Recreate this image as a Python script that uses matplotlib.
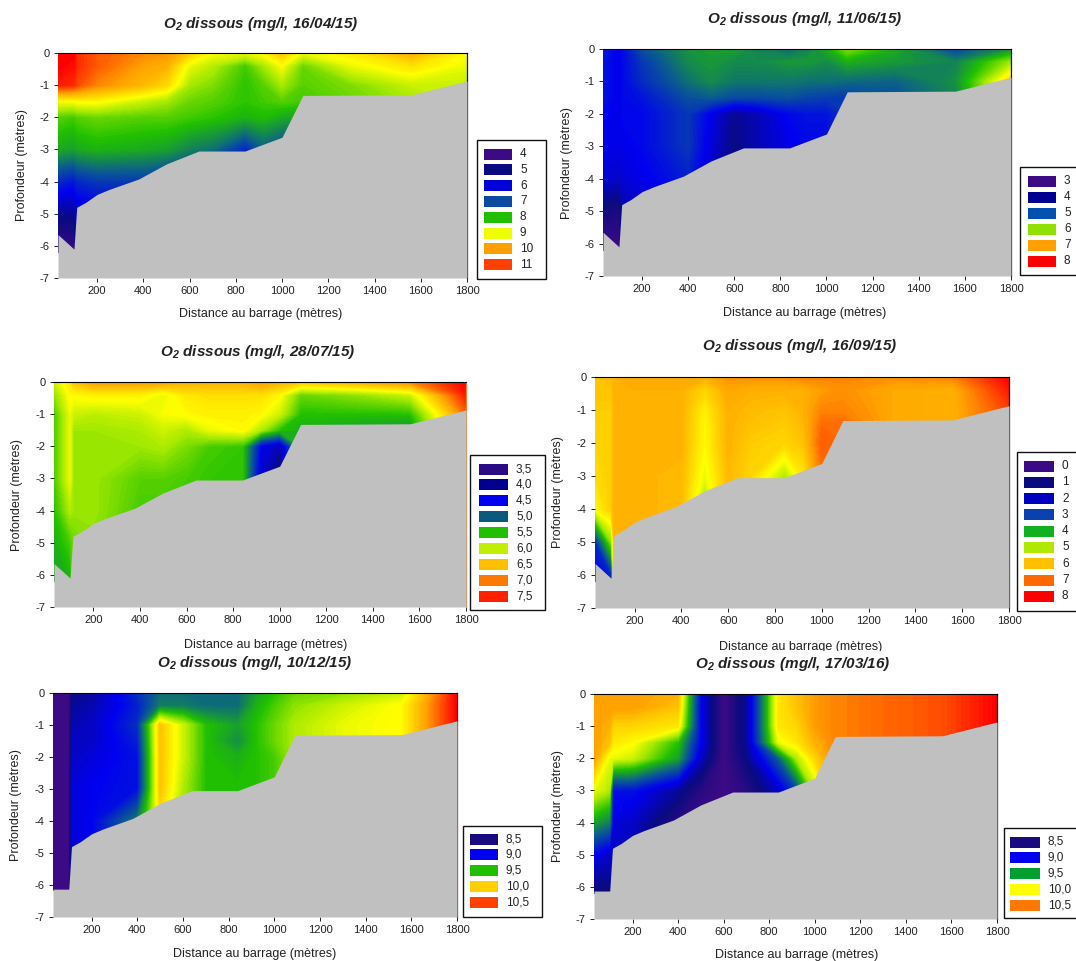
import numpy as np
import matplotlib
matplotlib.use('Agg')
from matplotlib import pyplot as plt
from matplotlib.colors import LinearSegmentedColormap
from matplotlib.patches import Rectangle

plt.rcParams['font.family'] = ['Liberation Sans', 'DejaVu Sans']
plt.rcParams['mathtext.fontset'] = 'custom'
plt.rcParams['mathtext.bfit'] = 'Liberation Sans:italic:bold'
plt.rcParams['axes.unicode_minus'] = False

#-------sampling grid-------------------
distance = [31, 100, 115, 200, 400, 500, 600, 700, 840, 920, 1000, 1090, 1300, 1560, 1800]
depth = [0, -0.4, -1, -1.5, -2, -3, -4, -5, -6.2]

#-------bottom of the reservoir---------
bottom_x = [31, 100, 112, 150, 200, 250, 380, 500, 640, 840, 1000, 1090, 1560, 1800]
bottom_y = [-5.65, -6.1, -4.8, -4.65, -4.4, -4.25, -3.92, -3.45, -3.05, -3.05, -2.62, -1.32, -1.3, -0.87]
bottom_y_flat = [-6.13, -6.13, -4.8, -4.65, -4.4, -4.25, -3.92, -3.45, -3.05, -3.05, -2.62, -1.32, -1.3, -0.87]

#-------one list per station, surface first-------
o2_160415 = [
    [11.0, 11.0, 10.8, 9.0, 8.1, 7.6, 6.2, 5.0, 4.0],
    [11.0, 10.9, 10.7, 9.0, 8.0, 7.5, 6.0, 5.0, 4.0],
    [10.7, 10.7, 10.5, 9.1, 8.1, 7.6, 6.2, 5.4, 5.0],
    [10.4, 10.4, 10.1, 9.1, 8.2, 7.7, 6.4, 5.5, 5.0],
    [10.1, 9.9, 9.7, 8.7, 8.1, 7.6, 6.4, 5.5, 5.0],
    [10.0, 9.8, 9.4, 8.5, 8.1, 7.5, 6.2, 5.5, 5.0],
    [9.5, 8.9, 8.5, 8.2, 8.0, 7.2, 6.0, 5.5, 5.0],
    [9.0, 8.6, 8.3, 8.1, 7.9, 7.0, 6.0, 5.5, 5.0],
    [8.9, 8.0, 7.9, 7.9, 7.7, 6.2, 5.5, 5.5, 5.0],
    [9.1, 8.5, 8.1, 8.0, 7.8, 6.8, 6.0, 5.5, 5.0],
    [9.6, 9.0, 8.5, 8.1, 7.6, 6.5, 6.0, 5.5, 5.0],
    [8.9, 8.2, 8.1, 8.0, 7.5, 6.5, 6.0, 5.5, 5.0],
    [9.2, 8.9, 8.3, 8.2, 8.0, 8.0, 8.0, 8.0, 8.0],
    [9.8, 9.3, 8.7, 8.5, 8.5, 8.5, 8.5, 8.5, 8.5],
    [9.0, 8.9, 8.7, 8.7, 8.7, 8.7, 8.7, 8.7, 8.7],
]
o2_110615 = [
    [4.5, 4.4, 4.4, 4.4, 4.3, 4.2, 4.1, 3.5, 3.0],
    [4.2, 4.2, 4.2, 4.2, 4.2, 4.2, 4.0, 3.4, 3.0],
    [4.3, 4.3, 4.3, 4.3, 4.3, 4.2, 4.1, 3.8, 3.5],
    [4.9, 4.7, 4.6, 4.4, 4.3, 4.3, 4.2, 4.0, 4.0],
    [5.4, 5.35, 5.15, 4.9, 4.7, 4.7, 4.5, 4.2, 4.0],
    [5.5, 5.45, 5.35, 5.0, 4.2, 4.1, 4.0, 4.0, 4.0],
    [5.5, 5.35, 5.2, 4.85, 3.7, 3.6, 3.6, 3.6, 3.6],
    [5.3, 5.35, 5.2, 4.85, 3.9, 3.9, 3.9, 3.9, 3.9],
    [5.1, 5.45, 5.2, 4.9, 4.3, 4.2, 4.2, 4.2, 4.2],
    [5.3, 5.45, 5.15, 4.8, 4.4, 4.3, 4.3, 4.3, 4.3],
    [5.6, 5.35, 5.15, 4.75, 4.4, 4.3, 4.3, 4.3, 4.3],
    [6.1, 5.6, 5.1, 4.7, 4.7, 4.7, 4.7, 4.7, 4.7],
    [5.6, 5.45, 5.05, 4.9, 4.9, 4.9, 4.9, 4.9, 4.9],
    [4.8, 5.3, 5.4, 5.3, 5.3, 5.3, 5.3, 5.3, 5.3],
    [5.4, 6.2, 6.9, 6.9, 6.9, 6.9, 6.9, 6.9, 6.9],
]
o2_280715 = [
    [6.2, 6.0, 5.8, 5.8, 5.8, 5.8, 5.7, 5.6, 5.6],
    [6.5, 6.4, 6.3, 6.3, 6.3, 6.3, 6.1, 5.8, 5.6],
    [6.7, 6.4, 6.2, 6.05, 6.05, 6.05, 6.05, 5.9, 5.9],
    [6.9, 6.45, 6.15, 6.05, 6.05, 6.05, 6.05, 6.0, 6.0],
    [6.9, 6.45, 6.2, 6.1, 6.05, 5.85, 5.8, 5.8, 5.8],
    [6.9, 6.3, 6.35, 6.2, 6.1, 5.85, 5.8, 5.8, 5.8],
    [6.8, 6.5, 6.4, 6.1, 5.95, 5.8, 5.8, 5.8, 5.8],
    [6.8, 6.55, 6.45, 6.3, 5.8, 5.75, 5.75, 5.75, 5.75],
    [6.8, 6.55, 6.45, 6.4, 5.75, 5.75, 5.75, 5.75, 5.75],
    [6.9, 6.55, 6.4, 6.1, 4.5, 4.3, 4.3, 4.3, 4.3],
    [6.8, 6.4, 6.2, 5.7, 4.2, 3.7, 3.7, 3.7, 3.7],
    [6.7, 5.9, 5.7, 5.6, 5.6, 5.6, 5.6, 5.6, 5.6],
    [6.8, 6.0, 5.7, 5.5, 5.5, 5.5, 5.5, 5.5, 5.5],
    [7.0, 6.2, 5.7, 5.4, 5.4, 5.4, 5.4, 5.4, 5.4],
    [7.5, 7.4, 7.1, 7.1, 7.1, 7.1, 7.1, 7.1, 7.1],
]
o2_160915 = [
    [6.4, 6.4, 6.3, 6.2, 6.2, 6.1, 5.8, 2.5, 2.0],
    [6.5, 6.4, 6.3, 6.3, 6.3, 6.3, 6.3, 5.0, 2.0],
    [6.6, 6.6, 6.6, 6.6, 6.6, 6.6, 6.6, 6.6, 6.6],
    [6.7, 6.6, 6.6, 6.6, 6.6, 6.6, 6.6, 6.6, 6.6],
    [6.7, 6.6, 6.6, 6.6, 6.6, 6.5, 6.5, 6.5, 6.5],
    [6.6, 6.2, 5.9, 5.8, 5.8, 5.6, 5.0, 5.0, 5.0],
    [6.9, 6.7, 6.6, 6.6, 6.6, 6.5, 6.5, 6.5, 6.5],
    [6.9, 6.6, 6.5, 6.4, 6.3, 6.2, 6.2, 6.2, 6.2],
    [6.9, 6.6, 6.4, 6.3, 6.2, 5.2, 5.2, 5.2, 5.2],
    [7.0, 6.6, 6.6, 6.5, 6.4, 6.0, 6.0, 6.0, 6.0],
    [7.0, 6.8, 7.0, 7.2, 7.3, 7.1, 7.1, 7.1, 7.1],
    [7.0, 6.9, 7.0, 7.2, 7.2, 7.2, 7.2, 7.2, 7.2],
    [6.9, 6.7, 6.7, 6.7, 6.7, 6.7, 6.7, 6.7, 6.7],
    [7.0, 6.6, 6.6, 6.6, 6.6, 6.6, 6.6, 6.6, 6.6],
    [8.0, 7.8, 7.5, 7.5, 7.5, 7.5, 7.5, 7.5, 7.5],
]
o2_101215 = [
    [8.5, 8.5, 8.5, 8.5, 8.5, 8.5, 8.5, 8.5, 8.5],
    [8.5, 8.5, 8.5, 8.5, 8.5, 8.5, 8.5, 8.5, 8.5],
    [8.75, 8.8, 8.85, 8.9, 8.9, 8.95, 8.95, 8.95, 8.95],
    [8.8, 8.85, 8.9, 8.9, 8.95, 9.0, 9.0, 9.0, 9.0],
    [9.15, 9.1, 9.15, 9.1, 9.05, 9.05, 9.4, 9.4, 9.4],
    [9.35, 9.4, 10.1, 10.1, 10.1, 10.1, 10.0, 10.0, 10.0],
    [9.35, 9.4, 9.85, 9.85, 9.85, 9.8, 9.8, 9.8, 9.8],
    [9.35, 9.35, 9.6, 9.6, 9.6, 9.6, 9.6, 9.6, 9.6],
    [9.35, 9.35, 9.5, 9.45, 9.55, 9.6, 9.6, 9.6, 9.6],
    [9.5, 9.55, 9.6, 9.6, 9.6, 9.6, 9.6, 9.6, 9.6],
    [9.6, 9.65, 9.7, 9.7, 9.65, 9.65, 9.65, 9.65, 9.65],
    [9.7, 9.75, 9.8, 9.8, 9.8, 9.8, 9.8, 9.8, 9.8],
    [9.75, 9.85, 9.9, 9.9, 9.9, 9.9, 9.9, 9.9, 9.9],
    [9.85, 9.95, 9.95, 9.95, 9.95, 9.95, 9.95, 9.95, 9.95],
    [10.5, 10.5, 10.5, 10.5, 10.5, 10.5, 10.5, 10.5, 10.5],
]
o2_170316 = [
    [10.2, 10.2, 10.2, 10.2, 10.2, 9.9, 9.5, 9.0, 8.7],
    [10.2, 10.2, 10.15, 10.1, 9.9, 9.8, 9.4, 8.9, 8.7],
    [10.2, 10.2, 10.05, 10.0, 9.9, 9.05, 8.95, 8.9, 8.9],
    [10.2, 10.2, 10.05, 9.95, 9.85, 9.05, 8.9, 8.9, 8.9],
    [10.15, 10.1, 10.0, 9.6, 9.5, 8.8, 8.6, 8.6, 8.6],
    [9.0, 9.0, 9.0, 9.0, 8.9, 8.6, 8.5, 8.5, 8.5],
    [8.5, 8.5, 8.5, 8.5, 8.5, 8.5, 8.5, 8.5, 8.5],
    [8.8, 8.8, 8.8, 8.8, 8.75, 8.6, 8.6, 8.6, 8.6],
    [10.0, 10.0, 10.0, 9.9, 9.3, 8.9, 8.9, 8.9, 8.9],
    [10.1, 10.1, 10.05, 10.0, 9.8, 9.2, 9.2, 9.2, 9.2],
    [10.2, 10.2, 10.2, 10.15, 10.05, 9.8, 9.8, 9.8, 9.8],
    [10.25, 10.25, 10.25, 10.25, 10.25, 10.25, 10.25, 10.25, 10.25],
    [10.3, 10.3, 10.3, 10.3, 10.3, 10.3, 10.3, 10.3, 10.3],
    [10.35, 10.35, 10.35, 10.35, 10.35, 10.35, 10.35, 10.35, 10.35],
    [10.5, 10.5, 10.5, 10.5, 10.5, 10.5, 10.5, 10.5, 10.5],
]

dates = ['16/04/15', '11/06/15', '28/07/15', '16/09/15', '10/12/15', '17/03/16']
series = [o2_160415, o2_110615, o2_280715, o2_160915, o2_101215, o2_170316]
bottoms = [bottom_y, bottom_y, bottom_y, bottom_y, bottom_y_flat, bottom_y_flat]
legend_labels = [
    ['4', '5', '6', '7', '8', '9', '10', '11'],
    ['3', '4', '5', '6', '7', '8'],
    ['3,5', '4,0', '4,5', '5,0', '5,5', '6,0', '6,5', '7,0', '7,5'],
    ['0', '1', '2', '3', '4', '5', '6', '7', '8'],
    ['8,5', '9,0', '9,5', '10,0', '10,5'],
    ['8,5', '9,0', '9,5', '10,0', '10,5'],
]
legend_colors = [
    ['#3d0a85', '#0a0a80', '#0000d8', '#0a4aa0', '#20c000', '#f0ff00', '#ffa000', '#ff4000'],
    ['#3d0a85', '#000090', '#0050b0', '#90e000', '#ffa000', '#ff0000'],
    ['#2a0a85', '#000090', '#0000f0', '#0a5a80', '#20c000', '#c0f000', '#ffc000', '#ff7800', '#ff2000'],
    ['#3d0a85', '#0a0a80', '#0000c0', '#0a40b0', '#10b020', '#b0e800', '#ffc000', '#ff6800', '#ff0000'],
    ['#1a0a80', '#0000f0', '#20c000', '#ffd000', '#ff4000'],
    ['#1a0a80', '#0000f0', '#00a030', '#ffff00', '#ff7800'],
]
right_edge = ['#111111', '#111111', '#e08030', '#111111', '#8b1010', '#111111']
x_ticks = [200, 400, 600, 800, 1000, 1200, 1400, 1600, 1800]
y_ticks = [0, -1, -2, -3, -4, -5, -6, -7]

#-------layout in pixels: left, right, top, bottom-------
W, H = 1076, 961
axes_px = [(58, 467, 53, 278), (603, 1011, 49, 276), (54, 466, 382, 607),
           (595, 1009, 377, 608), (53, 457, 693, 917), (594, 997, 694, 919)]
title_px = [(261, 24), (805, 19), (258, 352), (800, 346), (255, 663), (793, 664)]
xlabel_px = [(261, 314), (805, 313), (266, 645), (801, 647), (255, 954), (797, 955)]
ylabel_px = [(22, 165), (567, 163), (17, 495), (558, 492), (16, 805), (558, 806)]
box_px = [(477, 546, 140, 279), (1020, 1080, 167, 275), (470, 545, 455, 610),
          (1017, 1080, 452, 611), (463, 542, 826, 917), (1004, 1080, 828, 918)]
swatch_px = [(484, 512, 154, 15.8), (1028, 1056, 181, 16), (479, 508, 469, 15.9),
             (1024, 1054, 466, 16.3), (470, 498, 839, 15.9), (1010, 1040, 842, 15.8)]

colors = ['#3d0a85', '#0a0a80', '#0000f0', '#0a5a90', '#20c000',
          '#a0e800', '#ffff00', '#ffa000', '#ff0000']
stops = [0, 0.12, 0.25, 0.40, 0.55, 0.64, 0.72, 0.85, 1]
cmap = LinearSegmentedColormap.from_list('o2', list(zip(stops, colors)), N=256)

fig = plt.figure(figsize=(W / 100, H / 100), dpi=100)

# overlay for titles, labels and legends, in pixel coordinates
over = fig.add_axes([0, 0, 1, 1], zorder=5)
over.set_xlim(0, W)
over.set_ylim(H, 0)
over.axis('off')

for i in range(6):
    l, r, t, b = axes_px[i]
    ax = fig.add_axes([l / W, 1 - b / H, (r - l) / W, (b - t) / H])
    vals = [float(v.replace(',', '.')) for v in legend_labels[i]]
    vmin, vmax = vals[0], vals[-1]
    z = np.array(series[i]).T
    ax.contourf(distance, depth, z, levels=np.linspace(vmin, vmax, 161), cmap=cmap,
                extend='both', antialiased=False)
    ax.fill_between(bottom_x, bottoms[i], -7, color='#c0c0c0', lw=0, zorder=3)
    ax.set_xlim(31, 1800)
    ax.set_ylim(-7, 0)
    ax.set_xticks(x_ticks)
    ax.set_yticks(y_ticks)
    ax.tick_params(labelsize=8, length=3, width=0.7, colors='#222222', pad=3)
    for s in ['left', 'bottom']:
        ax.spines[s].set_visible(False)
    ax.spines['top'].set_linewidth(0.8)
    ax.spines['right'].set_linewidth(0.9)
    ax.spines['right'].set_color(right_edge[i])

    over.text(*title_px[i], r'$\mathbfit{O}_{\mathbfit{2}}$' + ' dissous (mg/l, %s)' % dates[i],
              fontsize=11, style='italic', weight='bold', ha='center', va='center', color='#222222')
    over.text(*xlabel_px[i], 'Distance au barrage (mètres)', fontsize=9, ha='center', va='center', color='#222222')
    over.text(*ylabel_px[i], 'Profondeur (mètres)', fontsize=9, rotation=90, ha='center', va='center', color='#222222')

    bl, br, bt, bb = box_px[i]
    over.add_patch(Rectangle((bl, bt), br - bl, bb - bt, fc='white', ec='#111111', lw=1))
    sl, sr, sc, step = swatch_px[i]
    for j, lab in enumerate(legend_labels[i]):
        yc = sc + j * step
        over.add_patch(Rectangle((sl, yc - 5.5), sr - sl, 11, fc=legend_colors[i][j], ec='none'))
        over.text(sr + 8, yc, lab, fontsize=8.5, va='center', ha='left', color='#222222')

# the two middle x labels are cut by the row below in the original
over.add_patch(Rectangle((100, 651), 820, 4, fc='white', ec='none', zorder=6))

fig.savefig('out.png', dpi=100)
